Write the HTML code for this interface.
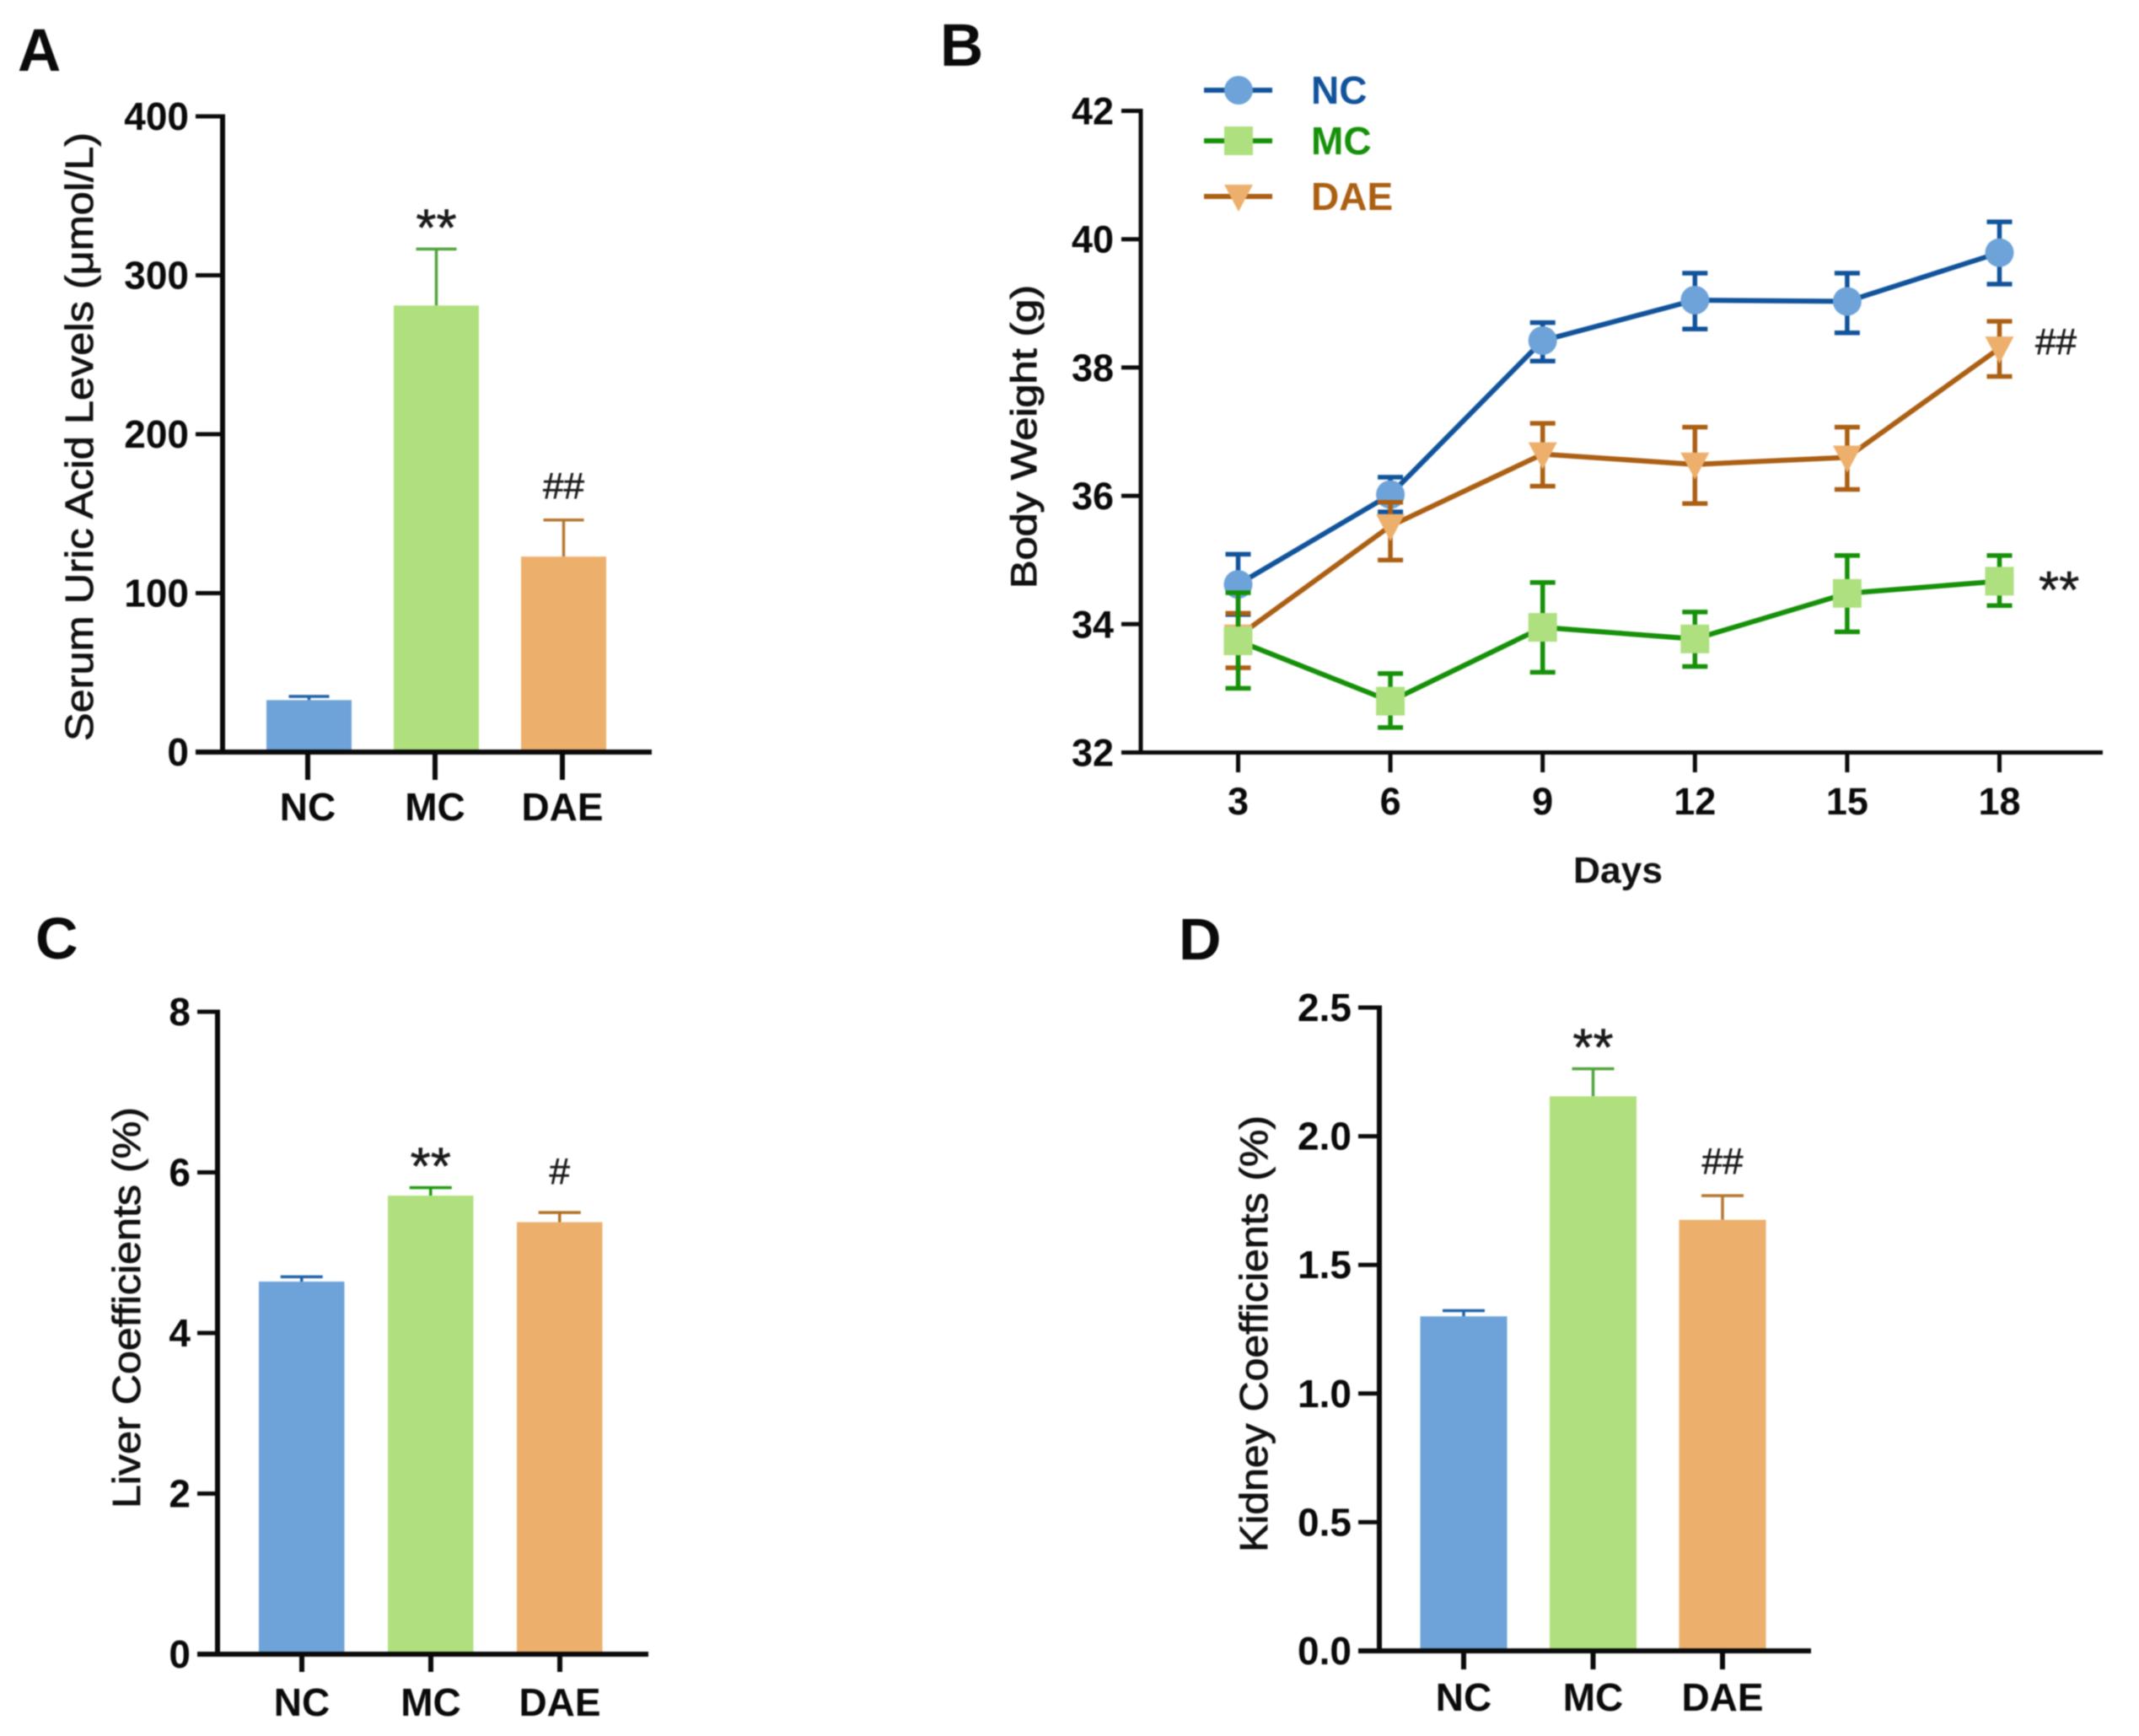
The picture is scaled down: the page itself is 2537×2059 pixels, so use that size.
<!DOCTYPE html>
<html lang="en">
<head>
<meta charset="utf-8">
<title>Serum uric acid, body weight, liver and kidney coefficients</title>
<style>
html,body{margin:0;padding:0;background:#fff}
svg{display:block;font-family:"Liberation Sans",Arial,sans-serif}
</style>
</head>
<body>
<svg id="figure" xmlns="http://www.w3.org/2000/svg" width="2537" height="2059" viewBox="0 0 2537 2059">
  <rect width="2537" height="2059" fill="#fff"/>
  <g id="marks" style="filter:blur(0.9px)">
    <text x="21" y="84" font-size="71" font-weight="700" fill="#0a0a0a">A</text>
    <text x="1115" y="78" font-size="71" font-weight="700" fill="#0a0a0a">B</text>
    <text x="42" y="1137" font-size="70" font-weight="700" fill="#0a0a0a">C</text>
    <text x="1398" y="1138" font-size="70" font-weight="700" fill="#0a0a0a">D</text>

    <text transform="translate(110,518) rotate(-90)" text-anchor="middle" font-size="46" stroke="#111" stroke-width="0.8" fill="#111" textLength="722" lengthAdjust="spacingAndGlyphs">Serum Uric Acid Levels (μmol/L)</text>
    <text transform="translate(1229,518) rotate(-90)" text-anchor="middle" font-size="43" stroke="#111" stroke-width="1" fill="#111" textLength="360" lengthAdjust="spacingAndGlyphs">Body Weight (g)</text>
    <text x="1919" y="1047" text-anchor="middle" font-size="44" font-weight="700" fill="#111" textLength="106" lengthAdjust="spacingAndGlyphs">Days</text>
    <text transform="translate(166,1551) rotate(-90)" text-anchor="middle" font-size="46" stroke="#111" stroke-width="0.8" fill="#111" textLength="476" lengthAdjust="spacingAndGlyphs">Liver Coefficients (%)</text>
    <text transform="translate(1503,1582) rotate(-90)" text-anchor="middle" font-size="46" stroke="#111" stroke-width="0.8" fill="#111" textLength="518" lengthAdjust="spacingAndGlyphs">Kidney Coefficients (%)</text>
  </g>
</svg>
<script>
// Shared categories
const barCategories = ['NC', 'MC', 'DAE'];

// Panel A: serum uric acid
const serumMeans = [32.7, 281, 123];
const serumErrorTops = [35, 316.5, 146];
const serumTicks = [0, 100, 200, 300, 400];
const serumTickLabels = ['0', '100', '200', '300', '400'];
const serumMarks = ['', '**', '##'];

// Panel B: body weight
const days = [3, 6, 9, 12, 15, 18];
const weightTicks = [32, 34, 36, 38, 40, 42];
const seriesNames = ['NC', 'MC', 'DAE'];
const ncWeight = [34.62, 36.02, 38.42, 39.05, 39.03, 39.79];
const ncWeightHigh = [35.09, 36.29, 38.7, 39.47, 39.47, 40.27];
const ncWeightLow = [34.15, 35.75, 38.1, 38.6, 38.54, 39.3];
const mcWeight = [33.74, 32.8, 33.95, 33.77, 34.48, 34.67];
const mcWeightHigh = [34.49, 33.23, 34.65, 34.19, 35.07, 35.07];
const mcWeightLow = [33.0, 32.39, 33.25, 33.34, 33.88, 34.29];
const daeWeight = [33.81, 35.53, 36.65, 36.49, 36.6, 38.3];
const daeWeightHigh = [34.17, 35.9, 37.13, 37.07, 37.07, 38.72];
const daeWeightLow = [33.32, 35.0, 36.15, 35.88, 36.1, 37.86];

// Panel C: liver coefficients
const liverMeans = [4.64, 5.71, 5.38];
const liverErrorTops = [4.70, 5.81, 5.50];
const liverTicks = [0, 2, 4, 6, 8];
const liverTickLabels = ['0', '2', '4', '6', '8'];
const liverMarks = ['', '**', '#'];

// Panel D: kidney coefficients
const kidneyMeans = [1.30, 2.155, 1.675];
const kidneyErrorTops = [1.322, 2.262, 1.769];
const kidneyTicks = [0, 0.5, 1, 1.5, 2, 2.5];
const kidneyTickLabels = ['0.0', '0.5', '1.0', '1.5', '2.0', '2.5'];
const kidneyMarks = ['', '**', '##'];

const SVG_NS = 'http://www.w3.org/2000/svg';
const root = document.getElementById('marks');
const INK = '#0a0a0a';
const BAR_FILLS = ['#6ea3d9', '#b0e07e', '#ecb06c'];
const ERR_STROKES = ['#1f62a8', '#4fa33c', '#b6762f'];

function mk(tag, name, attrs, text) {
  const el = document.createElementNS(SVG_NS, tag);
  
  
  for (const k in attrs) el.setAttribute(k, attrs[k]);
  if (text !== undefined) el.textContent = text;
  root.appendChild(el);
  return el;
}
function line(name, x1, y1, x2, y2, stroke, w) {
  return mk('line', name, { x1, y1, x2, y2, stroke, 'stroke-width': w });
}
function significance(name, x, y, mark, anchor) {
  const isStar = mark.charAt(0) === '*';
  return mk('text', name, {
    x, y, 'text-anchor': anchor, 'font-size': isStar ? 62 : 44,
    fill: '#1a1a1a', stroke: '#1a1a1a', 'stroke-width': 0.6
  }, mark);
}

function drawBarPanel(p) {
  const y = v => p.y0 - (v - p.min) / (p.max - p.min) * (p.y0 - p.yTop);
  const barX = i => p.firstBar + i * p.barStep;
  p.means.forEach((m, i) => {
    const cx = barX(i) + p.barW / 2;
    line(p.id + '-error-' + p.cats[i], cx, y(m), cx, y(p.tops[i]), p.errStrokes[i], 3.5);
    line(p.id + '-error-cap-' + p.cats[i], cx - p.cap, y(p.tops[i]), cx + p.cap, y(p.tops[i]), p.errStrokes[i], 3.5);
    mk('rect', p.id + '-bar-' + p.cats[i], { x: barX(i), y: y(m), width: p.barW, height: p.y0 - y(m), fill: BAR_FILLS[i] });
    if (p.marks[i]) {
      const mark = p.marks[i];
      const offset = mark === '**' ? -4 : (mark === '#' ? -34 : -26);
      significance(p.id + '-significance-' + p.cats[i], cx, y(p.tops[i]) + offset, mark, 'middle');
    }
  });
  // axes
  line(p.id + '-y-axis', p.x0, p.yTop - 2.5, p.x0, p.y0 + 2.5, INK, 6);
  line(p.id + '-x-axis', p.tickLeft, p.y0, p.xRight, p.y0, INK, 6);
  p.ticks.forEach((t, i) => {
    line(p.id + '-y-tick-' + t, p.tickLeft, y(t), p.x0, y(t), INK, 5);
    mk('text', p.id + '-y-tick-label-' + t, {
      x: p.tickLeft - 8, y: y(t) + 16, 'text-anchor': 'end', 'font-size': 46, 'font-weight': 700, fill: INK
    }, p.tickLabels[i]);
  });
  p.cats.forEach((c, i) => {
    const tx = p.firstTick + i * p.tickStep;
    line(p.id + '-x-tick-' + c, tx, p.y0, tx, p.y0 + p.tickLen, INK, 6);
    mk('text', p.id + '-x-tick-label-' + c, {
      x: tx, y: p.labelY, 'text-anchor': 'middle', 'font-size': 46, 'font-weight': 700, fill: INK
    }, c);
  });
}

drawBarPanel({
  id: 'serum', cats: barCategories, means: serumMeans, tops: serumErrorTops, marks: serumMarks,
  ticks: serumTicks, tickLabels: serumTickLabels, errStrokes: ERR_STROKES, min: 0, max: 400,
  x0: 264, y0: 892, yTop: 138, tickLeft: 232, xRight: 773,
  firstBar: 316, barW: 101, barStep: 151, firstTick: 365, tickStep: 151, tickLen: 33, labelY: 973, cap: 24
});
drawBarPanel({
  id: 'liver', cats: barCategories, means: liverMeans, tops: liverErrorTops, marks: liverMarks,
  ticks: liverTicks, tickLabels: liverTickLabels, errStrokes: ['#1f62a8', '#1f9a10', '#b0701f'], min: 0, max: 8,
  x0: 258, y0: 1962, yTop: 1200, tickLeft: 234, xRight: 769,
  firstBar: 307, barW: 101.5, barStep: 153, firstTick: 358, tickStep: 153, tickLen: 21, labelY: 2035, cap: 25
});
drawBarPanel({
  id: 'kidney', cats: barCategories, means: kidneyMeans, tops: kidneyErrorTops, marks: kidneyMarks,
  ticks: kidneyTicks, tickLabels: kidneyTickLabels, errStrokes: ['#1f62a8', '#4fa33c', '#b6762f'], min: 0, max: 2.5,
  x0: 1636, y0: 1958, yTop: 1195, tickLeft: 1611, xRight: 2148,
  firstBar: 1684.5, barW: 103, barStep: 153.5, firstTick: 1736, tickStep: 153.5, tickLen: 22, labelY: 2029, cap: 25
});

// Panel B line chart
const bx = d => 1468.5 + (d - days[0]) * 60.2;
const by = v => 892.5 - (v - weightTicks[0]) * 76.1;

const lineSeries = [
  { name: 'NC', vals: ncWeight, hi: ncWeightHigh, lo: ncWeightLow, stroke: '#11539b', fill: '#6ea3d9', shape: 'circle' },
  { name: 'DAE', vals: daeWeight, hi: daeWeightHigh, lo: daeWeightLow, stroke: '#ab5f13', fill: '#edb06c', shape: 'triangle' },
  { name: 'MC', vals: mcWeight, hi: mcWeightHigh, lo: mcWeightLow, stroke: '#159008', fill: '#aee07f', shape: 'square' }
];

function drawMarker(shape, name, x, y, fill) {
  if (shape === 'circle') {
    mk('circle', name, { cx: x, cy: y, r: 17, fill });
  } else if (shape === 'square') {
    mk('rect', name, { x: x - 17, y: y - 17, width: 34, height: 34, fill });
  } else {
    mk('polygon', name, { points: [[x - 17, y - 14], [x + 17, y - 14], [x, y + 18]].map(q => q.join(',')).join(' '), fill });
  }
}

lineSeries.forEach(s => {
  const key = s.name.toLowerCase();
  days.forEach((d, i) => {
    const x = bx(d);
    line('weight-error-' + key + '-day-' + d, x, by(s.hi[i]), x, by(s.lo[i]), s.stroke, 5.5);
    line('weight-error-cap-high-' + key + '-day-' + d, x - 15, by(s.hi[i]), x + 15, by(s.hi[i]), s.stroke, 5.5);
    line('weight-error-cap-low-' + key + '-day-' + d, x - 15, by(s.lo[i]), x + 15, by(s.lo[i]), s.stroke, 5.5);
  });
  mk('polyline', 'weight-line-' + key, {
    points: days.map((d, i) => bx(d) + ',' + by(s.vals[i])).join(' '),
    fill: 'none', stroke: s.stroke, 'stroke-width': 6
  });
  days.forEach((d, i) => drawMarker(s.shape, 'weight-point-' + key + '-day-' + d, bx(d), by(s.vals[i]), s.fill));
});

line('weight-y-axis', 1353, by(42) - 2.5, 1353, 895, INK, 5);
line('weight-x-axis', 1330, 892.5, 2494, 892.5, INK, 5);
weightTicks.forEach(t => {
  line('weight-y-tick-' + t, 1330, by(t), 1353, by(t), INK, 5);
  mk('text', 'weight-y-tick-label-' + t, {
    x: 1321, y: by(t) + 16, 'text-anchor': 'end', 'font-size': 45, 'font-weight': 700, fill: INK
  }, t);
});
days.forEach(d => {
  line('weight-x-tick-' + d, bx(d), 892.5, bx(d), 916, INK, 5);
  mk('text', 'weight-x-tick-label-' + d, {
    x: bx(d), y: 966, 'text-anchor': 'middle', 'font-size': 45, 'font-weight': 700, fill: INK
  }, d);
});

significance('weight-significance-dae', 2414, 420, '##', 'start');
significance('weight-significance-mc', 2418, 721, '**', 'start');

// Legend
const legendOrder = [lineSeries[0], lineSeries[2], lineSeries[1]];
const legendOffsets = [0, 60, 126];
legendOrder.forEach((s, i) => {
  const ly = 107 + legendOffsets[i];
  const key = s.name.toLowerCase();
  line('legend-line-' + key, 1428, ly, 1509, ly, s.stroke, 6);
  drawMarker(s.shape, 'legend-marker-' + key, 1469, ly, s.fill);
  mk('text', 'legend-label-' + key, {
    x: 1555, y: ly + 16, 'font-size': 46, 'font-weight': 700, fill: s.stroke
  }, seriesNames[seriesNames.indexOf(s.name)]);
});
</script>
</body>
</html>
